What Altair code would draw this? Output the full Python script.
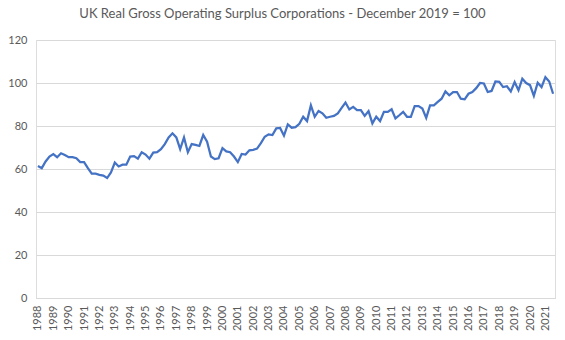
import altair as alt
import pandas as pd

start_year = 1988
values = [
    61.4, 60.4, 63.5, 65.8,
    66.9, 65.5, 67.3, 66.5,
    65.5, 65.5, 65.0, 63.2,
    63.2, 60.4, 57.8, 57.8,
    57.3, 56.9, 55.8, 58.4,
    63.0, 61.2, 62.0, 62.0,
    65.8, 66.0, 64.8, 67.8,
    66.7, 64.8, 67.6, 67.8,
    69.2, 71.6, 74.7, 76.6,
    74.7, 69.2, 74.7, 67.8,
    71.6, 71.2, 70.7, 75.8,
    72.7, 65.8, 64.6, 65.0,
    69.7, 68.2, 67.8, 65.8,
    63.2, 67.0, 66.7, 68.7,
    68.9, 69.5, 72.0, 75.0,
    76.1, 75.8, 78.9, 79.1,
    75.5, 80.7, 79.2, 79.5,
    81.0, 84.3, 82.3, 89.6,
    84.3, 87.0, 85.9, 83.8,
    84.3, 84.7, 85.9, 88.4,
    90.9, 87.7, 88.9, 87.4,
    87.4, 84.7, 86.9, 81.2,
    84.3, 82.3, 86.6, 86.6,
    87.8, 83.5, 85.0, 86.6,
    84.3, 84.3, 89.3, 89.3,
    88.1, 83.8, 89.6, 89.6,
    91.2, 92.7, 96.1, 94.3,
    95.8, 95.8, 92.7, 92.4,
    95.0, 95.8, 97.6, 100.0,
    99.8, 95.8, 96.3, 100.7,
    100.5, 98.1, 98.5, 96.1,
    100.4, 96.6, 102.0, 100.0,
    99.0, 94.0, 100.1, 98.1,
    102.7, 100.7, 95.0,
]
y_ticks = [0, 20, 40, 60, 80, 100, 120]
year_ticks = list(range(0, len(values), 4))

df = pd.DataFrame({"idx": list(range(len(values))), "value": values})

FONT = "Lato"
GREY = "#595959"

chart = (
    alt.Chart(df)
    .mark_line(color="#4472C4", strokeWidth=2.25)
    .encode(
        x=alt.X(
            "idx:Q",
            scale=alt.Scale(domain=[-0.5, len(values) - 0.5], nice=False, zero=False),
            axis=alt.Axis(
                title=None,
                values=year_ticks,
                labelExpr=f"'' + ({start_year} + floor(datum.value / 4))",
                labelAngle=270,
                labelAlign="right",
                labelBaseline="middle",
                labelPadding=7,
                labelFont=FONT,
                labelFontSize=11,
                labelColor=GREY,
                labelOverlap=False,
                ticks=False,
                grid=False,
                domain=True,
                domainColor="#d9d9d9",
                domainWidth=1,
            ),
        ),
        y=alt.Y(
            "value:Q",
            scale=alt.Scale(domain=[0, 120], nice=False),
            axis=alt.Axis(
                title=None,
                values=y_ticks,
                labelFont=FONT,
                labelFontSize=11,
                labelColor=GREY,
                labelPadding=9,
                ticks=False,
                domain=False,
                grid=True,
                gridColor="#d9d9d9",
                gridWidth=1,
            ),
        ),
    )
    .properties(
        width=519,
        height=258,
        autosize=alt.AutoSizeParams(type="none"),
        padding={"left": 36, "top": 40, "right": 10, "bottom": 42},
        title=alt.TitleParams(
            "UK Real Gross Operating Surplus Corporations - December 2019 = 100",
            font=FONT,
            fontSize=13,
            fontWeight="normal",
            color=GREY,
            anchor="middle",
            dx=-13,
            offset=13,
        ),
    )
    .configure_view(stroke=None)
    .configure(background="white")
)

chart.save("out.html", embed_options={"renderer": "svg", "actions": False})
